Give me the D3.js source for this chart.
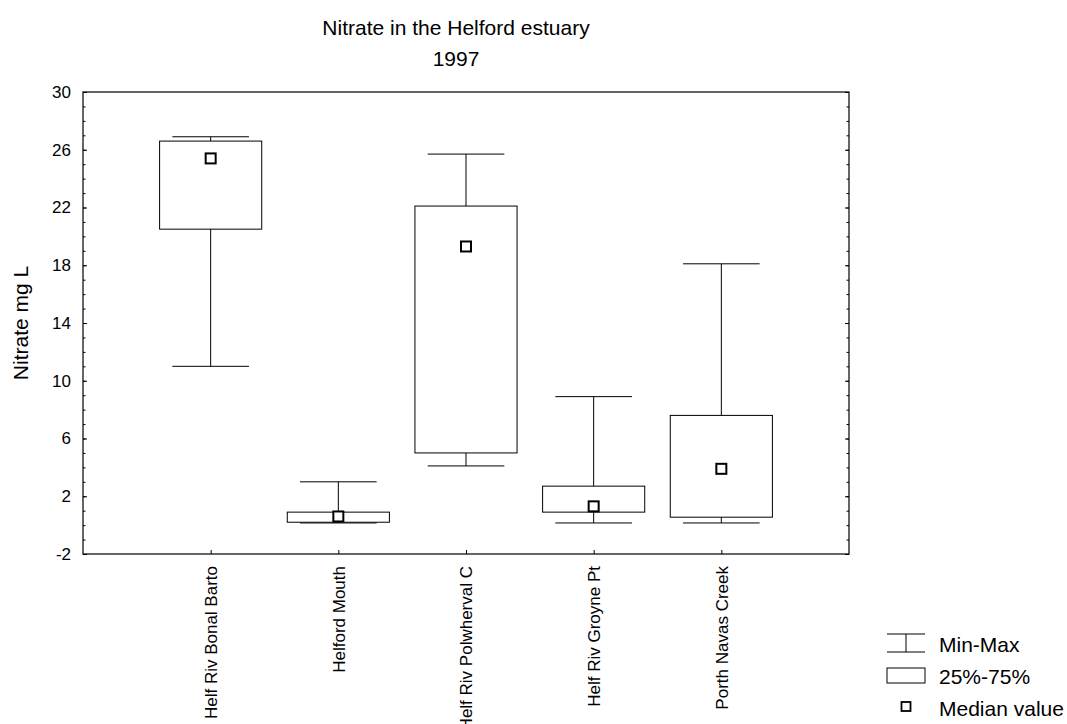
<!DOCTYPE html>
<html>
    <head>
        <meta charset="UTF-8">
        <title>Nitrate in the Helford estuary</title>
        <style>
            body { margin: 0; background: #fff; }
            svg { display: block; }
            text { font-family: "Liberation Sans", Arial, sans-serif; fill: #000; }
            .axis path, .axis line { stroke: #000; }
        </style>
    </head>
    <body>
        <svg width="1067" height="724"></svg>
        <script src="https://d3js.org/d3.v7.min.js"></script>
        <script>
            var sites = ["Helf Riv Bonal Barto", "Helford Mouth", "Helf Riv Polwherval C", "Helf Riv Groyne Pt", "Porth Navas Creek"];
            var mins    = [11.0, 0.15, 4.1, 0.15, 0.15];
            var q1s     = [20.5, 0.2, 5.0, 0.9, 0.55];
            var medians = [25.4, 0.6, 19.3, 1.3, 3.9];
            var q3s     = [26.6, 0.9, 22.1, 2.7, 7.6];
            var maxs    = [26.9, 3.0, 25.7, 8.9, 18.1];
            var yTicks  = [-2, 2, 6, 10, 14, 18, 22, 26, 30];

            var pL = 83, pR = 849, pT = 92, pB = 554;
            var svg = d3.select("svg");

            var x = d3.scalePoint().domain(sites).range([pL, pR]).padding(1);
            var y = d3.scaleLinear().domain([-2, 30]).range([pB, pT]);
            var step = x.step();

            var data = sites.map(function(s, i) {
                return {site: s, min: mins[i], q1: q1s[i], med: medians[i], q3: q3s[i], max: maxs[i]};
            });

            // frame
            svg.append("rect")
                .attr("x", pL).attr("y", pT)
                .attr("width", pR - pL).attr("height", pB - pT)
                .attr("fill", "none").attr("stroke", "#000").attr("stroke-width", 1.2);

            // y axis, left and right, major + minor ticks pointing inside
            var minor = d3.range(-2, 31);
            svg.append("g").attr("class", "axis").attr("transform", "translate(" + pL + ",0)")
                .call(d3.axisLeft(y).tickValues(minor).tickSize(-2.5).tickFormat(""))
                .call(g => g.select(".domain").remove());
            svg.append("g").attr("class", "axis").attr("transform", "translate(" + pL + ",0)")
                .call(d3.axisLeft(y).tickValues(yTicks).tickSize(-4).tickPadding(12).tickFormat(d => String(d)))
                .call(g => g.select(".domain").remove())
                .selectAll("text").style("font-size", "17px");
            svg.append("g").attr("class", "axis").attr("transform", "translate(" + pR + ",0)")
                .call(d3.axisRight(y).tickValues(minor).tickSize(-2.5).tickFormat(""))
                .call(g => g.select(".domain").remove());
            svg.append("g").attr("class", "axis").attr("transform", "translate(" + pR + ",0)")
                .call(d3.axisRight(y).tickValues(yTicks).tickSize(-4).tickFormat(""))
                .call(g => g.select(".domain").remove());

            // x axis
            var xa = svg.append("g").attr("class", "axis").attr("transform", "translate(0," + pB + ")")
                .call(d3.axisBottom(x).tickSize(-4).tickPadding(0))
                .call(g => g.select(".domain").remove());
            xa.selectAll("text")
                .style("font-size", "17px")
                .attr("text-anchor", "end")
                .attr("transform", "rotate(-90)")
                .attr("x", -12).attr("y", 0).attr("dy", "0.35em");

            // whiskers
            var plot = svg.append("g").attr("stroke", "#000").attr("fill", "none");
            plot.selectAll("line.stem").data(data).join("line")
                .attr("class", "stem")
                .attr("x1", d => x(d.site)).attr("x2", d => x(d.site))
                .attr("y1", d => y(d.max)).attr("y2", d => y(d.min));
            plot.selectAll("line.capTop").data(data).join("line")
                .attr("class", "capTop")
                .attr("x1", d => x(d.site) - step * 0.3).attr("x2", d => x(d.site) + step * 0.3)
                .attr("y1", d => y(d.max)).attr("y2", d => y(d.max));
            plot.selectAll("line.capBot").data(data).join("line")
                .attr("class", "capBot")
                .attr("x1", d => x(d.site) - step * 0.3).attr("x2", d => x(d.site) + step * 0.3)
                .attr("y1", d => y(d.min)).attr("y2", d => y(d.min));

            // boxes
            plot.selectAll("rect.box").data(data).join("rect")
                .attr("class", "box")
                .attr("x", d => x(d.site) - step * 0.4).attr("width", step * 0.8)
                .attr("y", d => y(d.q3)).attr("height", d => y(d.q1) - y(d.q3))
                .attr("fill", "#fff");

            // medians
            plot.selectAll("rect.med").data(data).join("rect")
                .attr("class", "med")
                .attr("x", d => x(d.site) - 5).attr("y", d => y(d.med) - 5)
                .attr("width", 10).attr("height", 10)
                .attr("fill", "#fff").attr("stroke-width", 2);

            // title
            svg.append("text").attr("x", 456).attr("y", 35).attr("text-anchor", "middle")
                .style("font-size", "21px").text("Nitrate in the Helford estuary");
            svg.append("text").attr("x", 456).attr("y", 66).attr("text-anchor", "middle")
                .style("font-size", "21px").text("1997");

            // y label
            svg.append("text")
                .attr("transform", "translate(28," + (pT + pB) / 2 + ") rotate(-90)")
                .attr("text-anchor", "middle")
                .style("font-size", "21px").text("Nitrate mg L");

            // legend
            var lg = svg.append("g").attr("transform", "translate(887,0)");
            lg.append("line").attr("x1", 0).attr("x2", 38).attr("y1", 634).attr("y2", 634).attr("stroke", "#000");
            lg.append("line").attr("x1", 0).attr("x2", 38).attr("y1", 652).attr("y2", 652).attr("stroke", "#000");
            lg.append("line").attr("x1", 19).attr("x2", 19).attr("y1", 634).attr("y2", 652).attr("stroke", "#000");
            lg.append("rect").attr("x", 0).attr("y", 668).attr("width", 38).attr("height", 15)
                .attr("fill", "#fff").attr("stroke", "#000");
            lg.append("rect").attr("x", 14.5).attr("y", 702).attr("width", 9).attr("height", 9)
                .attr("fill", "#fff").attr("stroke", "#000").attr("stroke-width", 1.8);
            var labels = ["Min-Max", "25%-75%", "Median value"];
            lg.selectAll("text.lt").data(labels).join("text")
                .attr("class", "lt")
                .attr("x", 52).attr("y", (d, i) => 652 + i * 32)
                .style("font-size", "21px").text(d => d);
        </script>
    </body>
</html>
